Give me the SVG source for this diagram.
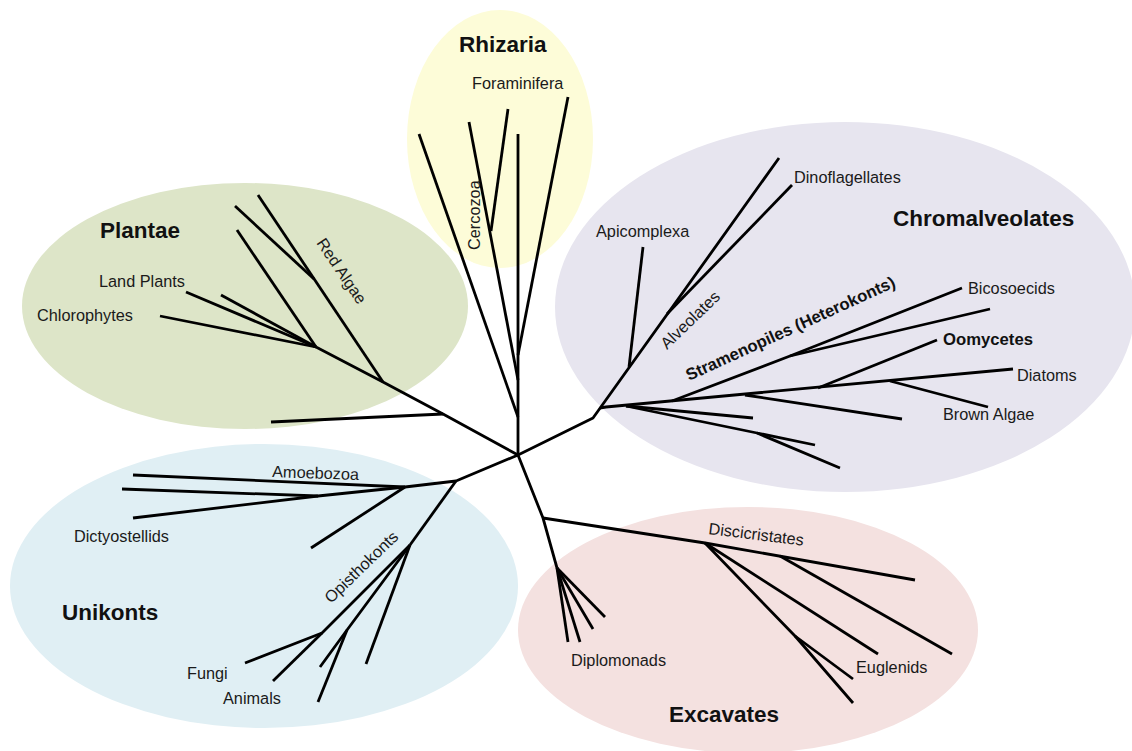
<svg xmlns="http://www.w3.org/2000/svg" width="1132" height="751" viewBox="0 0 1132 751">
<style>
.t{font-family:"Liberation Sans",Arial,sans-serif;font-size:16.3px;fill:#1a1a1a}
.b{font-family:"Liberation Sans",Arial,sans-serif;font-size:22.5px;font-weight:bold;fill:#111}
.sb{font-family:"Liberation Sans",Arial,sans-serif;font-size:16.7px;font-weight:bold;fill:#111}
#connectors path{fill:none;stroke:#000;stroke-width:2.8;stroke-linecap:butt;stroke-linejoin:round}
</style>
<rect width="1132" height="751" fill="#fff"/>
<g id="rhizaria"><ellipse cx="500" cy="139" rx="93" ry="129" fill="#fdfcd8"/><text class="b" x="459" y="52">Rhizaria</text></g>
<g id="plantae"><ellipse cx="245" cy="306" rx="223" ry="123" fill="#dde5c8"/><text class="b" x="100" y="238">Plantae</text></g>
<g id="chromalveolates"><ellipse cx="845" cy="307" rx="290" ry="185" fill="#e7e5ef"/><text class="b" x="893" y="226">Chromalveolates</text></g>
<g id="unikonts"><ellipse cx="264" cy="586" rx="254" ry="142" fill="#e0eff4"/><text class="b" x="62" y="620">Unikonts</text></g>
<g id="excavates"><ellipse cx="748" cy="630" rx="230" ry="123" fill="#f4e1e0"/><text class="b" x="669" y="722">Excavates</text></g>
<g id="connectors">
<!-- Rhizaria -->
<path d="M518,455 L518,134"/>
<path d="M518,417 L419,134"/>
<path d="M518,380 L469,122"/>
<path d="M491,231 L508,109"/>
<path d="M518,355 L568,97"/>
<!-- Plantae -->
<path d="M518,455 L443,414 L383,382 L316,347"/>
<path d="M443,414 L271,422"/>
<path d="M383,382 L258,195"/>
<path d="M314,279 L235,206"/>
<path d="M316,347 L237,230"/>
<path d="M316,347 L221,295"/>
<path d="M316,347 L186,292"/>
<path d="M316,347 L160,316"/>
<!-- Chromalveolates -->
<path d="M518,455 L593,418 L779,158"/>
<path d="M629,367 L643,247"/>
<path d="M667,314 L792,185"/>
<path d="M600,408 L606,407 L1013,369"/>
<path d="M672,401 L790,356 L962,288"/>
<path d="M790,356 L990,309"/>
<path d="M745,395 L902,419"/>
<path d="M818,388 L937,340"/>
<path d="M890,381 L988,407"/>
<path d="M626,406 L753,418"/>
<path d="M626,406 L757,433 L840,468"/>
<path d="M757,433 L815,445"/>
<!-- Unikonts -->
<path d="M518,455 L456,481 L405,487"/>
<path d="M405,487 L133,475"/>
<path d="M405,487 L318,496 L122,489"/>
<path d="M318,496 L133,518"/>
<path d="M405,487 L311,548"/>
<path d="M456,481 L410,545"/>
<path d="M410,545 L322,633 L245,663"/>
<path d="M322,633 L273,681"/>
<path d="M410,545 L347,630 L320,667"/>
<path d="M347,630 L318,702"/>
<path d="M410,545 L366,664"/>
<!-- Excavates -->
<path d="M518,455 L543,518 L557,568"/>
<path d="M557,568 L605,617"/>
<path d="M557,568 L593,629"/>
<path d="M557,568 L580,642"/>
<path d="M557,568 L568,642"/>
<path d="M543,518 L705,543 L915,580"/>
<path d="M780,556 L952,654"/>
<path d="M705,543 L878,654"/>
<path d="M705,543 L795,636 L853,703"/>
<path d="M795,636 L853,679"/>
</g>
<g id="labels">
<text class="t" x="472" y="89">Foraminifera</text>
<text class="t" transform="translate(480,250) rotate(-90)">Cercozoa</text>
<text class="t" x="99" y="287">Land Plants</text>
<text class="t" x="37" y="321">Chlorophytes</text>
<text class="t" transform="translate(316,243) rotate(56)">Red Algae</text>
<text class="t" x="596" y="237">Apicomplexa</text>
<text class="t" x="794" y="183">Dinoflagellates</text>
<text class="t" transform="translate(667,350) rotate(-44)">Alveolates</text>
<text class="sb" transform="translate(689,381) rotate(-24.5)">Stramenopiles (Heterokonts)</text>
<text class="t" x="968" y="294">Bicosoecids</text>
<text class="sb" x="943" y="345">Oomycetes</text>
<text class="t" x="1017" y="381">Diatoms</text>
<text class="t" x="943" y="420">Brown Algae</text>
<text class="t" transform="translate(272,477) rotate(2)">Amoebozoa</text>
<text class="t" x="74" y="542">Dictyostellids</text>
<text class="t" transform="translate(331,604) rotate(-44)">Opisthokonts</text>
<text class="t" x="187" y="679">Fungi</text>
<text class="t" x="223" y="704">Animals</text>
<text class="t" transform="translate(708,534) rotate(7)">Discicristates</text>
<text class="t" x="571" y="666">Diplomonads</text>
<text class="t" x="856" y="673">Euglenids</text>
</g>
</svg>
